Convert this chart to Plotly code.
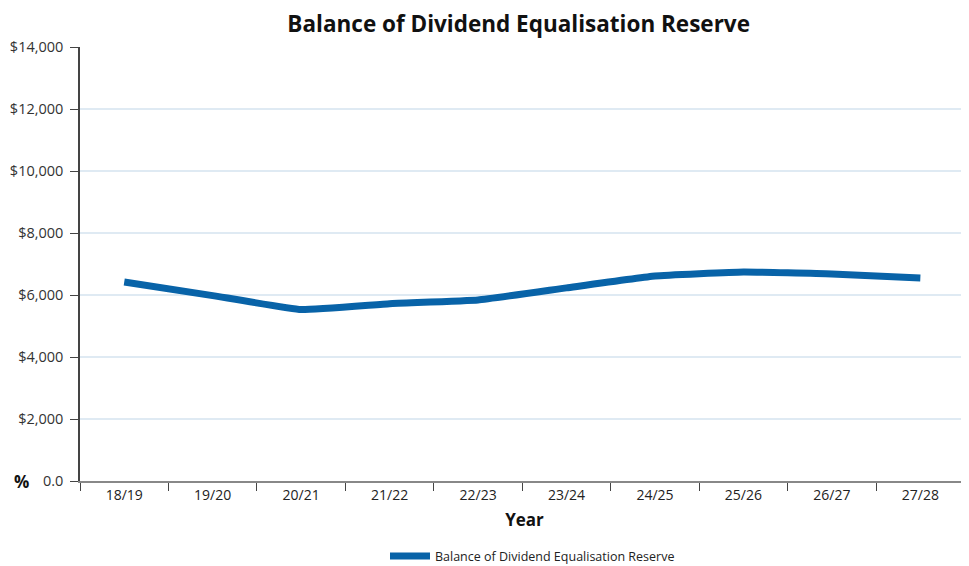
import plotly.graph_objects as go

years = ["18/19", "19/20", "20/21", "21/22", "22/23", "23/24", "24/25", "25/26", "26/27", "27/28"]
balance = [6420, 5980, 5530, 5720, 5840, 6230, 6610, 6740, 6680, 6550]
y_tickvals = [0, 2000, 4000, 6000, 8000, 10000, 12000, 14000]
y_ticktext = ["0.0", "$2,000", "$4,000", "$6,000", "$8,000", "$10,000", "$12,000", "$14,000"]

FONT = "Open Sans"
fig = go.Figure()
fig.add_trace(go.Scatter(
    x=years, y=balance, mode="lines",
    name="Balance of Dividend Equalisation Reserve",
    line=dict(color="#0863a8", width=7, shape="spline", smoothing=0.3),
))

fig.update_layout(
    width=969, height=566,
    margin=dict(l=72, r=8, t=39, b=93),
    paper_bgcolor="white", plot_bgcolor="white",
    font=dict(family=FONT, size=14, color="#222"),
    title=dict(text="<b>Balance of Dividend Equalisation Reserve</b>",
               x=0.527, xanchor="center", y=0.972, yanchor="middle",
               font=dict(family=FONT, size=22.5, color="#111")),
    showlegend=True,
    legend=dict(orientation="h", x=0.509, xanchor="center",
                yref="container", y=0.031, yanchor="middle",
                font=dict(family=FONT, size=12.5, color="#222"), itemwidth=40),
)
fig.update_xaxes(
    type="category", tickson="boundaries", ticks="outside", ticklen=8,
    tickcolor="#444", showline=True, linecolor="#888", linewidth=1.5,
    showgrid=False, tickfont=dict(size=14), automargin=False,
    title=dict(text="<b>Year</b>", font=dict(size=17, color="#111"), standoff=12),
    range=[-0.5, 9.55],
)
fig.update_yaxes(
    range=[0, 14000], tickvals=y_tickvals, ticktext=y_ticktext,
    ticks="outside", ticklen=12, tickcolor="rgba(0,0,0,0)", automargin=False,
    showline=True, linecolor="#444", linewidth=1.5,
    showgrid=True, gridcolor="#dfeaf3", gridwidth=1.5, zeroline=False,
    tickfont=dict(size=14.5, color="#333"),
)
# visible short ticks on the y axis
fig.update_yaxes(minor=dict(tickvals=y_tickvals, ticks="outside", ticklen=8,
                            tickcolor="#444", showgrid=False))
fig.add_annotation(text="<b>%</b>", xref="x domain", yref="y domain", x=-0.066, y=0.0,
                   xanchor="center", yanchor="middle", showarrow=False,
                   font=dict(size=17, color="#111"))
fig.write_html("out.html")
